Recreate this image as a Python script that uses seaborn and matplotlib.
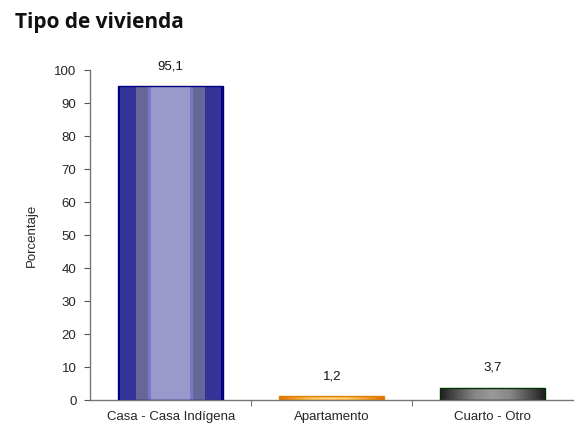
import numpy as np
import pandas as pd
import matplotlib
matplotlib.use('Agg')
import matplotlib.pyplot as plt
from matplotlib.colors import ListedColormap, LinearSegmentedColormap
import seaborn as sns

categorias = ['Casa - Casa Indígena', 'Apartamento', 'Cuarto - Otro']
porcentajes = [95.1, 1.2, 3.7]
etiquetas = ['95,1', '1,2', '3,7']

sns.set_style('ticks')
plt.rcParams['font.family'] = ['Liberation Sans', 'DejaVu Sans']

df = pd.DataFrame({'cat': categorias, 'pct': porcentajes})

fig = plt.figure(figsize=(5.75, 4.33), dpi=100)
ax = fig.add_axes([0.157, 0.076, 0.84, 0.762])

sns.barplot(data=df, x='cat', y='pct', ax=ax, width=0.65, color='white',
            edgecolor='none', linewidth=0)

# stripe pattern of the first bar (fractions of bar width, left half)
tramos = [(0.02, '#000080'), (0.17, '#333399'), (0.29, '#666699'),
          (0.31, '#7777cc'), (0.5, '#9999cc')]
cols = []
prev = 0
for fin, c in tramos:
    cols += [c] * int(round((fin - prev) * 100))
    prev = fin
azul = ListedColormap(cols + cols[::-1])

cmaps = [
    azul,
    LinearSegmentedColormap.from_list('nar', ['#e07000', '#f0a030', '#ffcc66',
                                              '#ffd080', '#ffcc66', '#f0a030', '#e07000']),
    LinearSegmentedColormap.from_list('gris', ['#202020', '#555555', '#888888',
                                               '#999999', '#888888', '#555555', '#202020']),
]
edges = ['#000080', '#e08000', '#003300']

for bar, cm, ec in zip(ax.patches, cmaps, edges):
    x0, y0 = bar.get_x(), bar.get_y()
    w, h = bar.get_width(), bar.get_height()
    grad = np.linspace(0, 1, 200).reshape(1, -1)
    im = ax.imshow(grad, cmap=cm, aspect='auto', extent=[x0, x0 + w, y0, y0 + h],
                   zorder=2, interpolation='nearest')
    im.set_clip_path(bar)
    bar.set_edgecolor(ec)
    bar.set_linewidth(1.0)
    bar.set_facecolor('none')
    bar.set_zorder(3)

for bar, txt in zip(ax.patches, etiquetas):
    ax.annotate(txt, (bar.get_x() + bar.get_width() / 2, bar.get_height()),
                xytext=(0, 10), textcoords='offset points', ha='center', va='bottom',
                fontsize=9.5, color='#111111')

ax.set_xlim(-0.5, 2.5)
ax.set_ylim(0, 100)
ax.set_yticks(np.arange(0, 101, 10))
ax.set_xticks([0.5, 1.5], minor=True)
ax.tick_params(axis='x', which='major', length=0, labelsize=9.5, pad=8)
ax.tick_params(axis='x', which='minor', length=4, direction='out', color='#555555')
ax.tick_params(axis='y', length=4, labelsize=9.5, color='#555555', pad=6)
ax.set_xlabel('')
ax.set_ylabel('Porcentaje', fontsize=9.5, labelpad=12)

for s in ['top', 'right']:
    ax.spines[s].set_visible(False)
for s in ['left', 'bottom']:
    ax.spines[s].set_color('#777777')
    ax.spines[s].set_linewidth(1.0)

fig.text(0.026, 0.948, 'Tipo de vivienda', fontsize=15, fontweight='bold',
         family=['Open Sans', 'DejaVu Sans'], color='#111111', va='center')

fig.savefig('out.png', dpi=100)
